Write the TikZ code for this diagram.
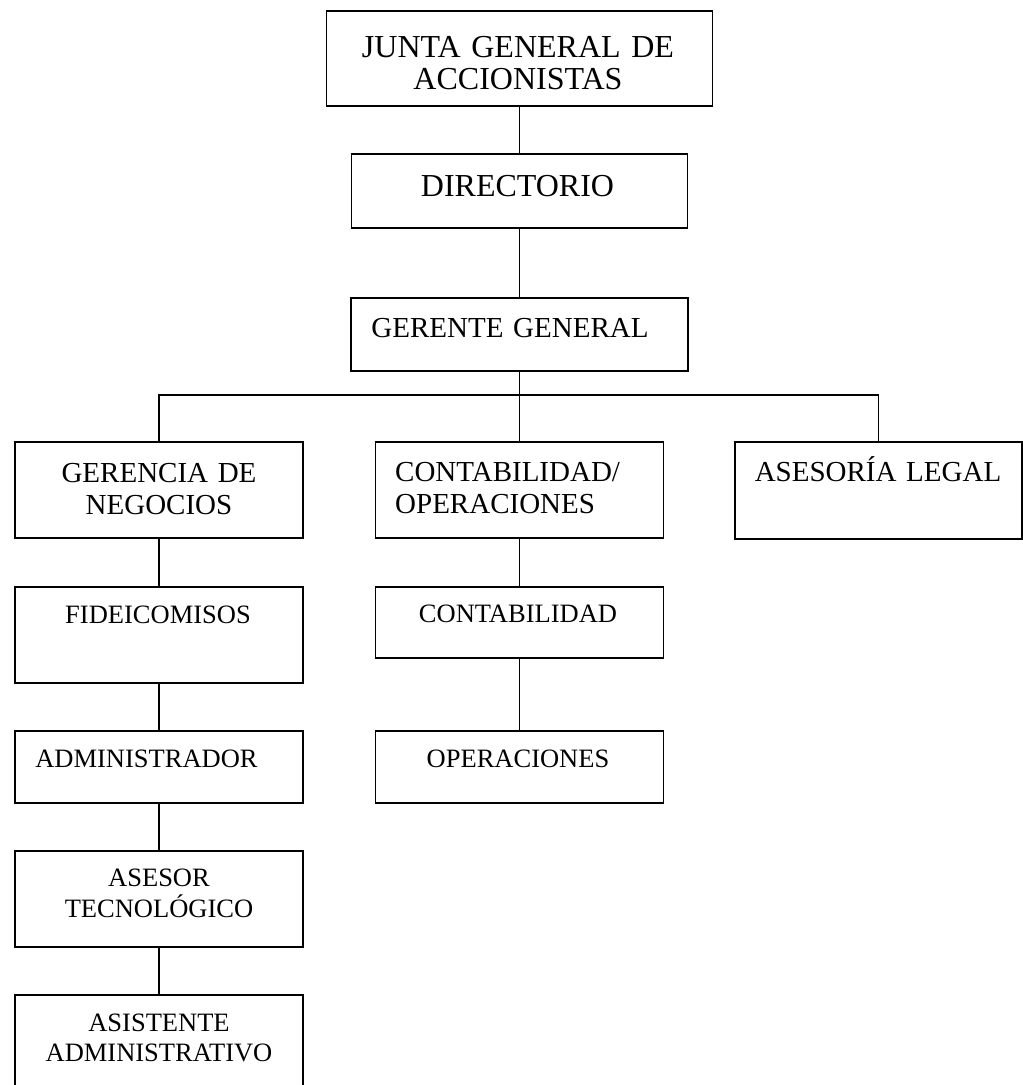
\documentclass[tikz,border=0pt]{standalone}
\usepackage{fontspec}
\setmainfont{Liberation Serif}
\begin{document}
\begin{tikzpicture}[x=1pt,y=-1pt,
  box/.style={draw, line width=1.3pt, rectangle, inner sep=0pt, outer sep=0pt},
  conn/.style={line width=1.3pt},
  bigtxt/.style={inner sep=0pt, anchor=base, text width=420pt, align=center, font=\fontsize{32}{32.5}\selectfont},
  midtxt/.style={inner sep=0pt, anchor=base, text width=300pt, align=center, font=\fontsize{29}{32}\selectfont},
  smalltxt/.style={inner sep=0pt, anchor=base, text width=300pt, align=center, font=\fontsize{26.5}{30.5}\selectfont}]
\useasboundingbox (0,0) rectangle (1023,1085);
% boxes
\node[box, minimum width=386pt, minimum height=95pt] (junta) at (519.5,58.5) {};
\node[box, minimum width=336pt, minimum height=74pt] (dir) at (519.5,191) {};
\node[box, minimum width=337pt, minimum height=73pt] (ger) at (519.5,334.5) {};
\node[box, minimum width=288pt, minimum height=96pt] (gn) at (159,490) {};
\node[box, minimum width=288pt, minimum height=96pt] (co) at (519.5,490) {};
\node[box, minimum width=287pt, minimum height=97pt] (al) at (878.5,490.5) {};
\node[box, minimum width=288pt, minimum height=96pt] (fi) at (159,635) {};
\node[box, minimum width=288pt, minimum height=71pt] (ct) at (519.5,622.5) {};
\node[box, minimum width=288pt, minimum height=72pt] (ad) at (159,767) {};
\node[box, minimum width=288pt, minimum height=72pt] (op) at (519.5,767) {};
\node[box, minimum width=288pt, minimum height=96pt] (as) at (159,899) {};
\node[box, minimum width=288pt, minimum height=120pt] (ai) at (159,1055) {};
% texts
\node[bigtxt] (tjunta) at (518,57) {JUNTA GENERAL DE\\ACCIONISTAS};
\node[bigtxt] (tdir) at (517.5,196) {DIRECTORIO};
\node[midtxt] (tger) at (510,337) {GERENTE GENERAL};
\node[midtxt] (tgn) at (159,482.5) {GERENCIA DE\\NEGOCIOS};
\node[midtxt, text width=260pt, align=left, anchor=base west] (tco) at (395,481) {CONTABILIDAD/\\OPERACIONES};
\node[midtxt] (tal) at (878,481) {ASESORÍA LEGAL};
\node[smalltxt] (tfi) at (158,623) {FIDEICOMISOS};
\node[smalltxt] (tct) at (518,622.5) {CONTABILIDAD};
\node[smalltxt] (tad) at (146.5,767.5) {ADMINISTRADOR};
\node[smalltxt] (top) at (518,767) {OPERACIONES};
\node[smalltxt] (tas) at (159,886.5) {ASESOR\\TECNOLÓGICO};
\node[smalltxt] (tai) at (159,1031) {ASISTENTE\\ADMINISTRATIVO};
% connectors
\coordinate (bus) at (519.5,395);
\draw[conn] (junta.south) -- (dir.north);
\draw[conn] (dir.south) -- (ger.north);
\draw[conn] (ger.south) -- (bus);
\draw[conn] (gn.north) |- (bus) -| (al.north);
\draw[conn] (bus) -- (co.north);
\draw[conn] (co.south) -- (ct.north);
\draw[conn] (ct.south) -- (op.north);
\draw[conn] (gn.south) -- (fi.north);
\draw[conn] (fi.south) -- (ad.north);
\draw[conn] (ad.south) -- (as.north);
\draw[conn] (as.south) -- (ai.north);
\end{tikzpicture}
\end{document}
